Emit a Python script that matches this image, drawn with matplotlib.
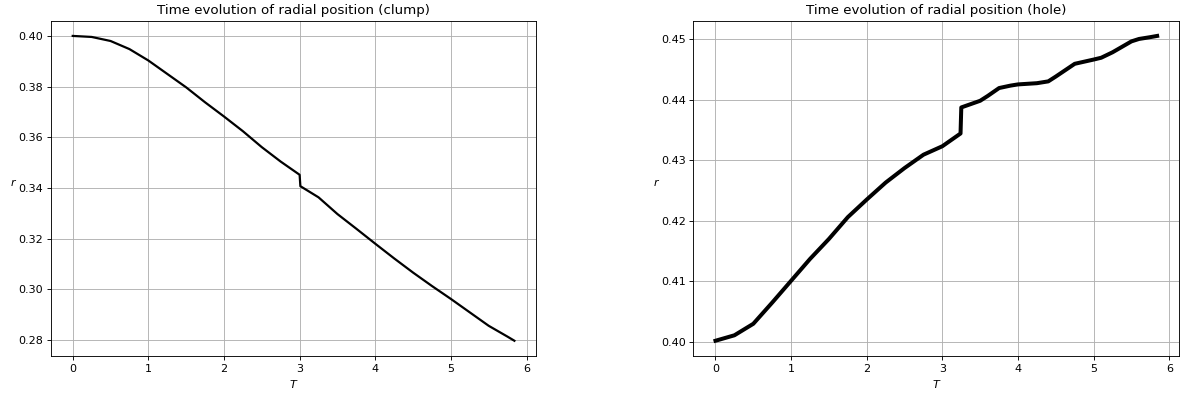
import numpy as np
import matplotlib
matplotlib.use('Agg')
import matplotlib.pyplot as plt

# Dati: clump
T_clump = [0.00, 0.25, 0.50, 0.75, 1.00, 1.25, 1.50, 1.75, 2.00, 2.25, 2.50, 2.75,
           3.00, 3.01, 3.25, 3.50, 3.75, 4.00, 4.25, 4.50, 4.75, 5.00, 5.25, 5.50,
           5.75, 5.84]
r_clump = [0.4000, 0.3996, 0.3980, 0.3948, 0.3903, 0.3850, 0.3797, 0.3738, 0.3682,
           0.3624, 0.3561, 0.3504, 0.3452, 0.3407, 0.3363, 0.3297, 0.3239, 0.3180,
           0.3122, 0.3066, 0.3013, 0.2962, 0.2909, 0.2856, 0.2813, 0.2797]

# Dati: hole
T_hole = [0.00, 0.25, 0.50, 0.75, 1.00, 1.25, 1.50, 1.75, 2.00, 2.25, 2.50, 2.75,
          3.00, 3.24, 3.25, 3.50, 3.60, 3.75, 3.90, 4.00, 4.25, 4.40, 4.50, 4.75,
          5.00, 5.10, 5.25, 5.50, 5.60, 5.75, 5.84]
r_hole = [0.4002, 0.4011, 0.4030, 0.4065, 0.4101, 0.4137, 0.4170, 0.4206, 0.4235,
          0.4263, 0.4287, 0.4309, 0.4323, 0.4344, 0.4387, 0.4398, 0.4406, 0.4419,
          0.4423, 0.4425, 0.4427, 0.4430, 0.4438, 0.4459, 0.4466, 0.4469, 0.4478,
          0.4496, 0.4500, 0.4503, 0.4505]

fig, (ax1, ax2) = plt.subplots(1, 2, figsize=(1189/80, 397/80), dpi=80)
fig.subplots_adjust(left=0.0426, right=0.9918, bottom=0.1033, top=0.9479, wspace=0.323)

# Grafico clump
ax1.plot(T_clump, r_clump, color='black', lw=2)
ax1.set_title('Time evolution of radial position (clump)')
ax1.set_xlabel('$T$')
ax1.set_ylabel('$r$', rotation=0)
ax1.grid(True)

# Grafico hole
ax2.plot(T_hole, r_hole, color='black', lw=3.6)
ax2.set_title('Time evolution of radial position (hole)')
ax2.set_xlabel('$T$')
ax2.set_ylabel('$r$', rotation=0)
ax2.grid(True)

fig.savefig('out.png', dpi=80)
